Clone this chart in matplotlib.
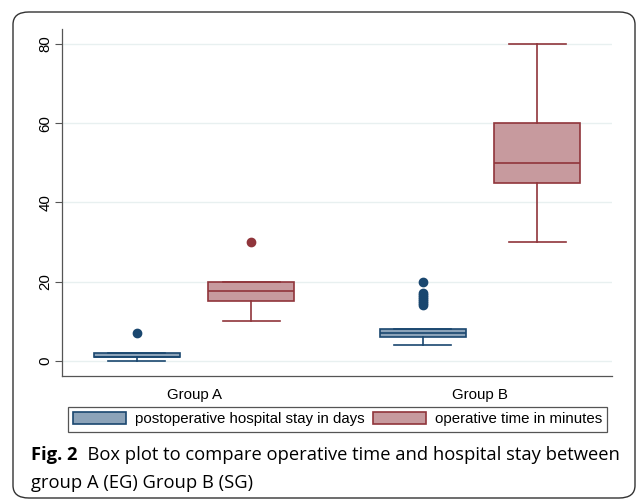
import matplotlib.pyplot as plt
from matplotlib.patches import Patch, FancyBboxPatch

plt.rcParams['font.family'] = ['Liberation Sans', 'DejaVu Sans']

groups = ['Group A', 'Group B']
series = ['postoperative hospital stay in days', 'operative time in minutes']

# box summaries per group: q1, median, q3, lower whisker, upper whisker, outliers
stay_q1 = [1, 6]
stay_med = [1, 7]
stay_q3 = [2, 8]
stay_lo = [0, 4]
stay_hi = [2, 8]
stay_out = [[7], [14, 14.5, 15, 15.5, 16, 16.5, 17, 20]]

op_q1 = [15, 45]
op_med = [17.5, 50]
op_q3 = [20, 60]
op_lo = [10, 30]
op_hi = [20, 80]
op_out = [[30], []]

yticks = [0, 20, 40, 60, 80]

navy = '#1a476f'
maroon = '#90353b'
navy_fill = '#8ca3b9'
maroon_fill = '#c79a9e'


def make_stats(q1, med, q3, lo, hi, out):
    stats = []
    for i in range(len(q1)):
        stats.append({'q1': q1[i], 'med': med[i], 'q3': q3[i],
                      'whislo': lo[i], 'whishi': hi[i], 'fliers': out[i]})
    return stats


fig = plt.figure(figsize=(6.37, 5.0), dpi=100)
ax = fig.add_axes([62 / 637, 124 / 500, 550 / 637, 347 / 500])

pos = [1, 2]
for stats, offset, edge, fill in [
        (make_stats(stay_q1, stay_med, stay_q3, stay_lo, stay_hi, stay_out), -0.2, navy, navy_fill),
        (make_stats(op_q1, op_med, op_q3, op_lo, op_hi, op_out), 0.2, maroon, maroon_fill)]:
    ax.bxp(stats, positions=[p + offset for p in pos], widths=0.3, capwidths=0.2,
           patch_artist=True, manage_ticks=False,
           boxprops=dict(facecolor=fill, edgecolor=edge, linewidth=1.2),
           medianprops=dict(color=edge, linewidth=1.2),
           whiskerprops=dict(color=edge, linewidth=1.2),
           capprops=dict(color=edge, linewidth=1.2),
           flierprops=dict(marker='o', markerfacecolor=edge, markeredgecolor=edge,
                           markersize=6, linestyle='none'))

ax.set_xlim(0.538, 2.462)
ax.set_ylim(-3.87, 83.8)
ax.set_yticks(yticks)
ax.set_yticklabels([str(v) for v in yticks], rotation=90, va='center', fontsize=10.8)
ax.set_xticks(pos)
ax.set_xticklabels(groups, fontsize=10.8)
ax.tick_params(axis='x', length=0, pad=9)
ax.tick_params(axis='y', length=5, width=0.8, color='#555555', pad=2)
ax.yaxis.grid(True, color='#e8f0f0', linewidth=1)
ax.set_axisbelow(True)
for s in ['top', 'right']:
    ax.spines[s].set_visible(False)
for s in ['left', 'bottom']:
    ax.spines[s].set_color('#555555')
    ax.spines[s].set_linewidth(0.9)

handles = [Patch(facecolor=navy_fill, edgecolor=navy, linewidth=1.2, label=series[0]),
           Patch(facecolor=maroon_fill, edgecolor=maroon, linewidth=1.2, label=series[1])]
leg = fig.legend(handles=handles, loc='upper left', bbox_to_anchor=(68 / 637, 1 - 407 / 500),
                 ncol=2, fontsize=10.8, fancybox=False, framealpha=1, edgecolor='#555555',
                 handlelength=3.5, handleheight=0.85, handletextpad=0.6, columnspacing=0.6,
                 borderpad=0.35, borderaxespad=0)
leg.get_frame().set_linewidth(0.9)

# outer rounded frame
frame = FancyBboxPatch((13 / 637, 2 / 500), 622 / 637, 486 / 500,
                       boxstyle='round,pad=0,rounding_size=0.025',
                       transform=fig.transFigure, facecolor='none',
                       edgecolor='#333333', linewidth=1.0)
fig.patches.append(frame)

cap_font = ['Open Sans', 'DejaVu Sans']
cap_size = 13.2
t1 = fig.text(31 / 637, 1 - 460 / 500, 'Fig. 2', fontsize=cap_size, fontweight='bold',
              family=cap_font, va='baseline')
ax.annotate('  Box plot to compare operative time and hospital stay between',
            xy=(1, 0), xycoords=t1, va='bottom', ha='left',
            fontsize=cap_size, family=cap_font, annotation_clip=False)
fig.text(31 / 637, 1 - 488 / 500, 'group A (EG) Group B (SG)', fontsize=cap_size,
         family=cap_font, va='baseline')

fig.savefig('out.png', dpi=100)
